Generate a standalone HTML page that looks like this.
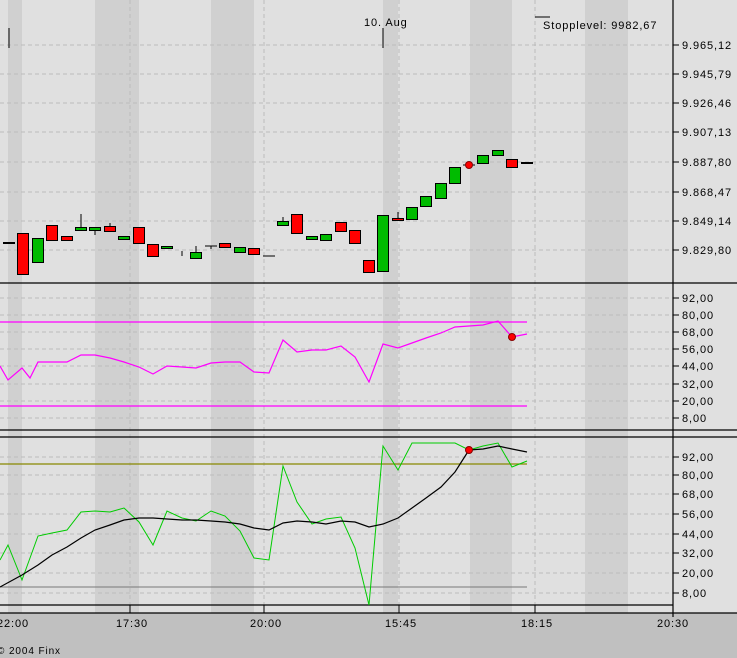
<!DOCTYPE html>
<html><head><meta charset="utf-8"><style>
body{margin:0;width:737px;height:658px;overflow:hidden;background:#c0c0c0}
svg{display:block}
text{font-family:"Liberation Sans",sans-serif;font-size:11px;fill:#000;letter-spacing:0.9px}
</style></head><body>
<svg width="737" height="658" viewBox="0 0 737 658">
<rect x="0" y="0" width="737" height="613" fill="#e0e0e0"/>
<g fill="#d0d0d0">
<rect x="8" y="0" width="14" height="613"/><rect x="95" y="0" width="44" height="613"/>
<rect x="211" y="0" width="43" height="613"/><rect x="383" y="0" width="15" height="613"/>
<rect x="470" y="0" width="42" height="613"/><rect x="585" y="0" width="43" height="613"/>
</g>
<g stroke="#bbb" stroke-dasharray="4,3" stroke-width="1">
<line x1="130" y1="0" x2="130" y2="613"/><line x1="264" y1="0" x2="264" y2="613"/>
<line x1="399" y1="0" x2="399" y2="613"/><line x1="535" y1="0" x2="535" y2="613"/>
<line x1="0" y1="45" x2="673" y2="45"/><line x1="0" y1="74" x2="673" y2="74"/>
<line x1="0" y1="103" x2="673" y2="103"/><line x1="0" y1="132" x2="673" y2="132"/>
<line x1="0" y1="162" x2="673" y2="162"/><line x1="0" y1="192" x2="673" y2="192"/>
<line x1="0" y1="221" x2="673" y2="221"/><line x1="0" y1="250" x2="673" y2="250"/>
<line x1="0" y1="298" x2="673" y2="298"/><line x1="0" y1="315" x2="673" y2="315"/>
<line x1="0" y1="332" x2="673" y2="332"/><line x1="0" y1="349" x2="673" y2="349"/>
<line x1="0" y1="366" x2="673" y2="366"/><line x1="0" y1="384" x2="673" y2="384"/>
<line x1="0" y1="401" x2="673" y2="401"/><line x1="0" y1="418" x2="673" y2="418"/>
<line x1="0" y1="457" x2="673" y2="457"/><line x1="0" y1="475" x2="673" y2="475"/>
<line x1="0" y1="494" x2="673" y2="494"/><line x1="0" y1="514" x2="673" y2="514"/>
<line x1="0" y1="534" x2="673" y2="534"/><line x1="0" y1="553" x2="673" y2="553"/>
<line x1="0" y1="573" x2="673" y2="573"/><line x1="0" y1="593" x2="673" y2="593"/>
</g>
<g stroke="#000" stroke-width="1">
<line x1="3" y1="243" x2="15" y2="243" stroke-width="2"/>
<line x1="81" y1="214" x2="81" y2="227"/><line x1="95" y1="231" x2="95" y2="235"/>
<line x1="110" y1="223" x2="110" y2="226"/><line x1="182" y1="251" x2="182" y2="256"/>
<line x1="196" y1="246" x2="196" y2="252"/><line x1="205" y1="246" x2="217" y2="246"/>
<line x1="211" y1="246" x2="211" y2="249"/><line x1="263" y1="256" x2="275" y2="256"/>
<line x1="283" y1="217" x2="283" y2="221"/><line x1="398" y1="212" x2="398" y2="218"/>
<line x1="521" y1="163" x2="533" y2="163" stroke-width="2"/>
</g>
<g stroke="#000" stroke-width="1">
<rect x="17.5" y="233.5" width="11" height="41" fill="#f00"/>
<rect x="32.5" y="238.5" width="11" height="24" fill="#0b0"/>
<rect x="46.5" y="225.5" width="11" height="15" fill="#f00"/>
<rect x="61.5" y="236.5" width="11" height="4" fill="#f00"/>
<rect x="75.5" y="227.5" width="11" height="3" fill="#0b0"/>
<rect x="89.5" y="227.5" width="11" height="3" fill="#0b0"/>
<rect x="104.5" y="226.5" width="11" height="5" fill="#f00"/>
<rect x="118.5" y="236.5" width="11" height="3" fill="#0b0"/>
<rect x="133.5" y="227.5" width="11" height="16" fill="#f00"/>
<rect x="147.5" y="244.5" width="11" height="12" fill="#f00"/>
<rect x="161.5" y="246.5" width="11" height="2" fill="#0b0"/>
<rect x="190.5" y="252.5" width="11" height="6" fill="#0b0"/>
<rect x="219.5" y="243.5" width="11" height="4" fill="#f00"/>
<rect x="234.5" y="247.5" width="11" height="5" fill="#0b0"/>
<rect x="248.5" y="248.5" width="11" height="6" fill="#f00"/>
<rect x="277.5" y="221.5" width="11" height="4" fill="#0b0"/>
<rect x="291.5" y="214.5" width="11" height="19" fill="#f00"/>
<rect x="306.5" y="236.5" width="11" height="3" fill="#0b0"/>
<rect x="320.5" y="234.5" width="11" height="6" fill="#0b0"/>
<rect x="335.5" y="222.5" width="11" height="9" fill="#f00"/>
<rect x="349.5" y="230.5" width="11" height="13" fill="#f00"/>
<rect x="363.5" y="260.5" width="11" height="12" fill="#f00"/>
<rect x="377.5" y="215.5" width="11" height="56" fill="#0b0"/>
<rect x="392.5" y="218.5" width="11" height="2" fill="#f00"/>
<rect x="406.5" y="207.5" width="11" height="12" fill="#0b0"/>
<rect x="420.5" y="196.5" width="11" height="10" fill="#0b0"/>
<rect x="435.5" y="183.5" width="11" height="15" fill="#0b0"/>
<rect x="449.5" y="167.5" width="11" height="16" fill="#0b0"/>
<rect x="477.5" y="155.5" width="11" height="8" fill="#0b0"/>
<rect x="492.5" y="150.5" width="11" height="5" fill="#0b0"/>
<rect x="506.5" y="159.5" width="11" height="8" fill="#f00"/>
</g>
<line x1="463" y1="165" x2="475" y2="165" stroke="#000"/>
<circle cx="469" cy="165" r="3.5" fill="#f00" stroke="#800"/>
<line x1="9" y1="28" x2="9" y2="48" stroke="#000"/>
<line x1="383" y1="28" x2="383" y2="48" stroke="#000"/>
<text x="364" y="26">10. Aug</text>
<line x1="535" y1="17" x2="550" y2="17" stroke="#000"/>
<text x="543" y="29">Stopplevel: 9982,67</text>
<g stroke="#000" stroke-width="1.2">
<line x1="0" y1="283" x2="737" y2="283"/><line x1="0" y1="430" x2="737" y2="430"/>
<line x1="0" y1="437" x2="737" y2="437"/><line x1="0" y1="605" x2="673" y2="605"/>
<line x1="0" y1="613" x2="737" y2="613"/><line x1="673" y1="0" x2="673" y2="617"/>
</g>
<g stroke="#f0f" stroke-width="1.2" fill="none">
<line x1="0" y1="322" x2="527" y2="322"/><line x1="0" y1="406" x2="527" y2="406"/>
<polyline points="0,366 8,380 22,368 30,378 38,362 52,362 67,362 81,355 95,355 110,358 124,362 139,367 153,374 167,366 182,367 196,368 211,363 225,362 240,362 254,372 269,373 283,340 297,352 312,350 326,350 341,346 355,357 369,382 383,344 398,348 412,343 426,338 441,333 455,327 469,326 483,325 498,321 512,337 527,334"/>
</g>
<circle cx="512" cy="337" r="3.5" fill="#f00" stroke="#800"/>
<line x1="0" y1="464" x2="527" y2="464" stroke="#880" stroke-width="1.2"/>
<line x1="0" y1="587" x2="527" y2="587" stroke="#777"/>
<polyline fill="none" stroke="#0c0" stroke-width="1" points="0,560 8,545 22,580 38,536 52,533 67,530 81,512 95,511 110,512 124,508 139,522 153,545 167,511 182,518 196,521 211,511 225,516 240,531 254,558 269,560 283,466 297,502 312,524 326,519 341,517 355,548 369,605 383,446 398,470 412,443 426,443 441,443 455,443 469,450 483,446 498,443 512,467 527,461"/>
<polyline fill="none" stroke="#000" stroke-width="1.2" points="0,587 22,575 38,565 52,555 67,547 81,538 95,530 110,525 124,520 139,518 153,518 167,519 182,520 196,520 211,521 225,522 240,524 254,528 269,530 283,523 297,521 312,522 326,524 341,521 355,522 369,527 383,524 398,518 412,508 426,498 441,487 455,472 469,450 483,449 498,446 512,449 527,452"/>
<circle cx="469" cy="450" r="3.5" fill="#f00" stroke="#800"/>
<g stroke="#000">
<line x1="673" y1="45" x2="679" y2="45"/><line x1="673" y1="74" x2="679" y2="74"/><line x1="673" y1="103" x2="679" y2="103"/><line x1="673" y1="132" x2="679" y2="132"/><line x1="673" y1="162" x2="679" y2="162"/><line x1="673" y1="192" x2="679" y2="192"/><line x1="673" y1="221" x2="679" y2="221"/><line x1="673" y1="250" x2="679" y2="250"/>
<line x1="673" y1="298" x2="679" y2="298"/><line x1="673" y1="315" x2="679" y2="315"/><line x1="673" y1="332" x2="679" y2="332"/><line x1="673" y1="349" x2="679" y2="349"/><line x1="673" y1="366" x2="679" y2="366"/><line x1="673" y1="384" x2="679" y2="384"/><line x1="673" y1="401" x2="679" y2="401"/><line x1="673" y1="418" x2="679" y2="418"/>
<line x1="673" y1="457" x2="679" y2="457"/><line x1="673" y1="475" x2="679" y2="475"/><line x1="673" y1="494" x2="679" y2="494"/><line x1="673" y1="514" x2="679" y2="514"/><line x1="673" y1="534" x2="679" y2="534"/><line x1="673" y1="553" x2="679" y2="553"/><line x1="673" y1="573" x2="679" y2="573"/><line x1="673" y1="593" x2="679" y2="593"/>
<line x1="130" y1="605" x2="130" y2="613"/><line x1="264" y1="605" x2="264" y2="613"/><line x1="399" y1="605" x2="399" y2="613"/><line x1="535" y1="605" x2="535" y2="613"/>
</g>
<g>
<text x="682" y="49">9.965,12</text><text x="682" y="78">9.945,79</text><text x="682" y="107">9.926,46</text><text x="682" y="136">9.907,13</text><text x="682" y="166">9.887,80</text><text x="682" y="196">9.868,47</text><text x="682" y="225">9.849,14</text><text x="682" y="254">9.829,80</text>
<text x="682" y="302">92,00</text><text x="682" y="319">80,00</text><text x="682" y="336">68,00</text><text x="682" y="353">56,00</text><text x="682" y="370">44,00</text><text x="682" y="388">32,00</text><text x="682" y="405">20,00</text><text x="682" y="422">8,00</text>
<text x="682" y="461">92,00</text><text x="682" y="479">80,00</text><text x="682" y="498">68,00</text><text x="682" y="518">56,00</text><text x="682" y="538">44,00</text><text x="682" y="557">32,00</text><text x="682" y="577">20,00</text><text x="682" y="597">8,00</text>
<text x="-3" y="627">22:00</text><text x="116" y="627">17:30</text><text x="250" y="627">20:00</text><text x="385" y="627">15:45</text><text x="521" y="627">18:15</text><text x="657" y="627">20:30</text>
<text x="-3" y="654" style="font-size:10px">© 2004 Finx</text>
</g>
</svg>
</body></html>
